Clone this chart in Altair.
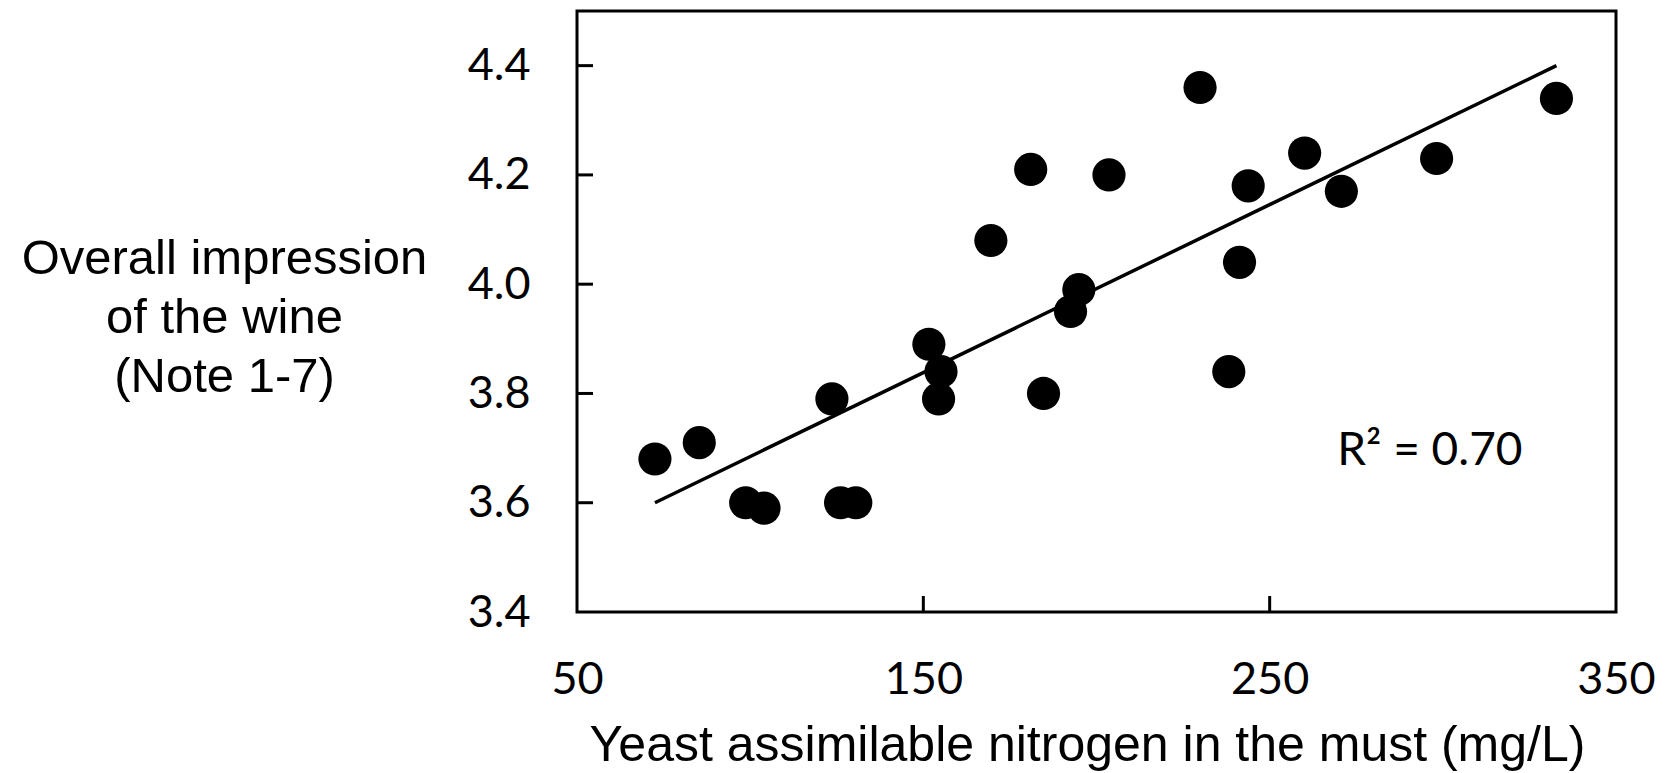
import altair as alt
import pandas as pd

# Data
yan = [72.5, 85.3, 98.7, 104.0, 123.6, 126.1, 130.5, 151.6, 155.1, 154.4, 169.5, 181.0,
       184.7, 192.5, 194.9, 203.6, 229.9, 238.2, 241.3, 243.8, 260.1, 270.7, 298.2, 332.8]
impression = [3.68, 3.71, 3.60, 3.59, 3.79, 3.60, 3.60, 3.89, 3.84, 3.79, 4.08, 4.21,
              3.80, 3.95, 3.99, 4.20, 4.36, 3.84, 4.04, 4.18, 4.24, 4.17, 4.23, 4.34]

trend_x = [72.5, 332.8]
trend_y = [3.60, 4.40]

x_tick_labels = [50, 150, 250, 350]
x_inner_ticks = [150, 250]
y_tick_labels = [3.4, 3.6, 3.8, 4.0, 4.2, 4.4]
y_inner_ticks = [3.6, 3.8, 4.0, 4.2, 4.4]

r2_label = ["R² = 0.70"]
r2_x = [269.5]
r2_y = [3.695]

W, H = 1039, 601

pts = pd.DataFrame({"x": yan, "y": impression})
trend = pd.DataFrame({"x": trend_x, "y": trend_y})
ytk = pd.DataFrame({"y": y_inner_ticks})
xtk = pd.DataFrame({"x": x_inner_ticks})
r2 = pd.DataFrame({"x": r2_x, "y": r2_y, "t": r2_label})

xscale = alt.Scale(domain=[50, 350], nice=False, zero=False)
yscale = alt.Scale(domain=[3.4, 4.5], nice=False, zero=False)

xaxis = alt.Axis(
    values=x_tick_labels, format="d", tickSize=0, domain=False, grid=False,
    labelFont="Lato", labelFontSize=45, labelColor="black", labelPadding=45,
    labelBaseline="top", labelFlush=False, labelOverlap=False,
    title="Yeast assimilable nitrogen in the must (mg/L)",
    titleFont="Liberation Sans", titleFontSize=50, titleFontWeight="normal",
    titleColor="black", titleX=510, titleY=148, titleAlign="center",
    titleBaseline="alphabetic", titleAnchor="start",
)
yaxis = alt.Axis(
    values=y_tick_labels, format=".1f", tickSize=0, domain=False, grid=False,
    labelFont="Lato", labelFontSize=45, labelColor="black", labelPadding=47,
    labelFlush=False, labelOverlap=False,
    title=["Overall impression", "of the wine", "(Note 1-7)"],
    titleFont="Liberation Sans", titleFontSize=49, titleFontWeight="normal",
    titleColor="black", titleAngle=0, titleX=-353, titleY=247,
    titleAlign="center", titleBaseline="middle", titleLineHeight=59,
    titleAnchor="start",
)

points = alt.Chart(pts).mark_circle(size=1100, color="black", opacity=1).encode(
    x=alt.X("x:Q", scale=xscale, axis=xaxis),
    y=alt.Y("y:Q", scale=yscale, axis=yaxis),
)

line = alt.Chart(trend).mark_line(color="black", strokeWidth=3.5).encode(
    x=alt.X("x:Q", scale=xscale),
    y=alt.Y("y:Q", scale=yscale),
)

yticks = alt.Chart(ytk).mark_rule(color="black", strokeWidth=3).encode(
    y=alt.Y("y:Q", scale=yscale),
    x=alt.value(0),
    x2=alt.value(16),
)

xticks = alt.Chart(xtk).mark_rule(color="black", strokeWidth=3).encode(
    x=alt.X("x:Q", scale=xscale),
    y=alt.value(H),
    y2=alt.value(H - 16),
)

label = alt.Chart(r2).mark_text(
    font="Lato", fontSize=46, color="black", align="left", baseline="middle"
).encode(
    x=alt.X("x:Q", scale=xscale),
    y=alt.Y("y:Q", scale=yscale),
    text="t:N",
)

chart = (
    alt.layer(line, points, yticks, xticks, label)
    .properties(
        width=W, height=H,
        autosize=alt.AutoSizeParams(type="none"),
        padding={"left": 577, "top": 11, "right": 50, "bottom": 161},
        background="white",
    )
    .configure_view(stroke="black", strokeWidth=3)
)

chart.save("out.html", embed_options={"renderer": "svg", "actions": False})
